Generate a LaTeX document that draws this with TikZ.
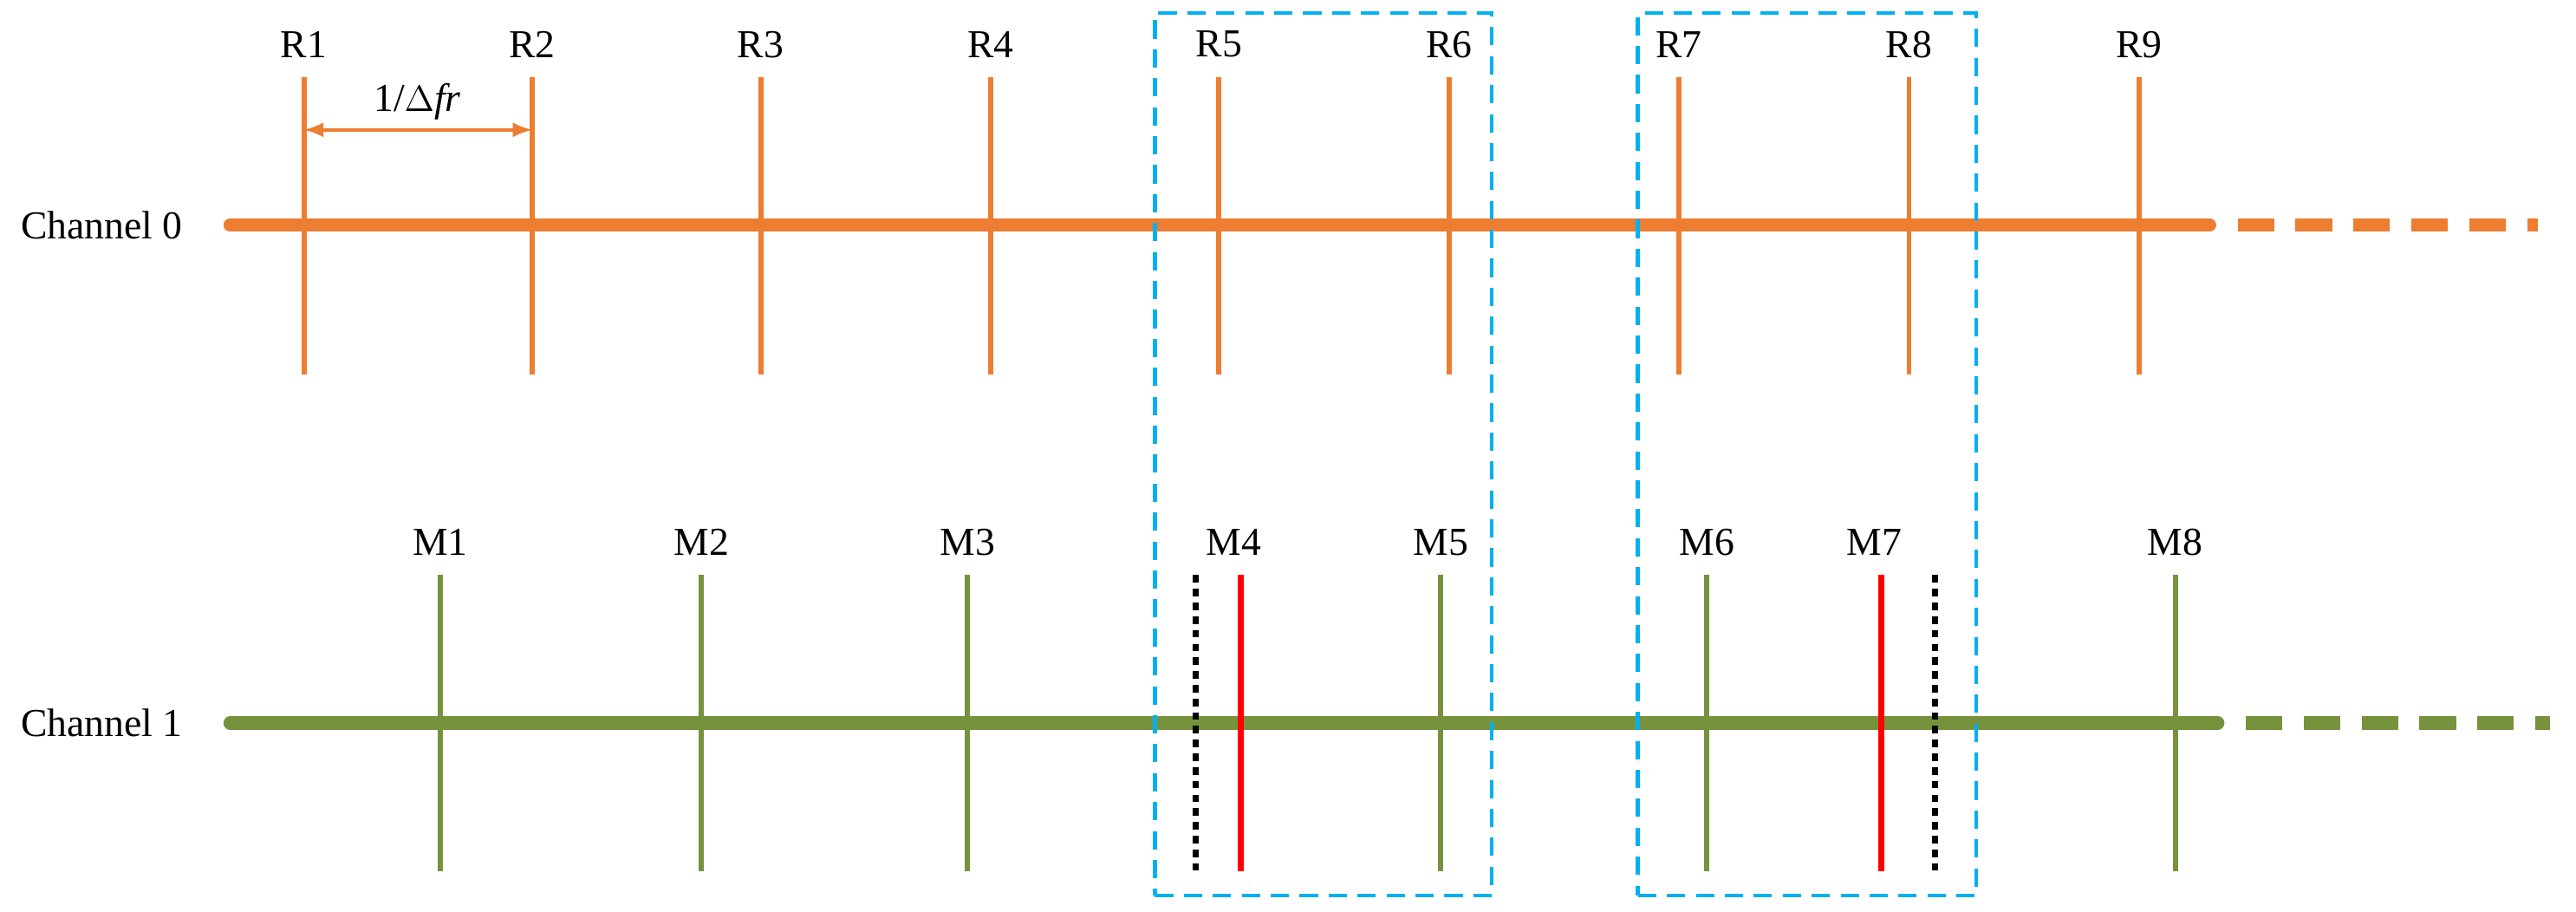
\documentclass[tikz,border=0pt]{standalone}
\usepackage{fontspec}
\setmainfont{Liberation Serif}
\definecolor{orng}{RGB}{237,125,49}
\definecolor{grn}{RGB}{118,146,60}
\definecolor{blu}{RGB}{0,176,240}
\begin{document}
\begin{tikzpicture}[x=0.018954cm,y=-0.018954cm,
  main/.style={line width=4.3pt},
  dsh/.style={line width=4.3pt,dash pattern=on 12pt off 7pt},
  tick/.style={line width=1.7pt},
  lbl/.style={font=\fontsize{13}{15}\selectfont},
  box/.style={blu,line width=1.3pt,dash pattern=on 6pt off 3.5pt}]
\useasboundingbox (0,0) rectangle (1568,555);
\node[lbl] (c0) at (62,137) {Channel 0};
\node[lbl] (c1) at (62,440) {Channel 1};
\coordinate (a0) at (140,137); \coordinate (b0) at (1345,137);
\coordinate (d0) at (1362,137); \coordinate (e0) at (1545,137);
\draw[main,orng,line cap=round] (a0) -- (b0);
\draw[dsh,orng] (d0) -- (e0);
\coordinate (a1) at (140,440); \coordinate (b1) at (1350,440);
\coordinate (d1) at (1367,440); \coordinate (e1) at (1552,440);
\draw[main,grn,line cap=round] (a1) -- (b1);
\draw[dsh,grn] (d1) -- (e1);
\foreach \x [count=\i] in {185,324,463,603,742,882,1022,1162,1302}{
  \coordinate (rt\i) at (\x,47); \coordinate (rb\i) at (\x,228);
  \draw[tick,orng] (rt\i) -- (rb\i);
  \node[lbl] (r\i) at (\x,27) {R\i};
}
\foreach \x/\n in {268/1,427/2,589/3,877/5,1039/6,1324/8}{
  \coordinate (mt\n) at (\x,350); \coordinate (mb\n) at (\x,530);
  \draw[tick,grn] (mt\n) -- (mb\n);
  \node[lbl] (m\n) at (\x,330) {M\n};
}
\foreach \x/\n in {755/4,1145/7}{
  \coordinate (mt\n) at (\x,350); \coordinate (mb\n) at (\x,530);
  \draw[line width=2pt,red] (mt\n) -- (mb\n);
  \node[lbl] (m\n) at (\x-4,330) {M\n};
}
\foreach \x/\n in {728/1,1178/2}{
  \coordinate (kt\n) at (\x,350); \coordinate (kb\n) at (\x,530);
  \draw[line width=2pt,dash pattern=on 2.5pt off 2pt] (kt\n) -- (kb\n);
}
\coordinate (p1) at (185,79); \coordinate (p2) at (324,79);
\draw[orng,line width=1.2pt,<->,>=latex] (p1) -- (p2);
\node[lbl] (f) at (254,62) {1/$\Delta$\textit{fr}};
\node[box,draw,minimum width=205*0.018954cm,minimum height=537*0.018954cm,inner sep=0] (bx1) at (805.5,276.5) {};
\node[box,draw,minimum width=206*0.018954cm,minimum height=537*0.018954cm,inner sep=0] (bx2) at (1100,276.5) {};
\end{tikzpicture}
\end{document}
